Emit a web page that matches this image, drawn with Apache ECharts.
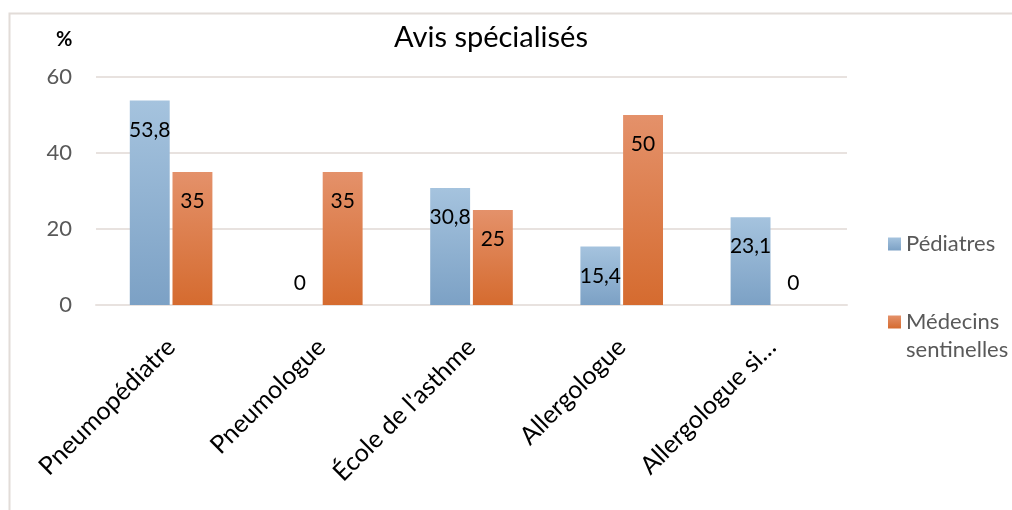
<!DOCTYPE html>
<html>
<head>
<meta charset="utf-8">
<script src="https://cdn.jsdelivr.net/npm/echarts@6/dist/echarts.min.js"></script>
<style>
html,body{margin:0;padding:0;background:#fff;}
#c{width:1012px;height:510px;}
</style>
</head>
<body>
<div id="c"></div>
<script>
const categories = ["Pneumopédiatre", "Pneumologue", "École de l'asthme", "Allergologue", "Allergologue si…"];
const pediatres = [53.8, 0, 30.8, 15.4, 23.1];
const medecins = [35, 35, 25, 50, 0];
const seriesNames = ["Pédiatres", "Médecins sentinelles"];
const yTicks = [0, 20, 40, 60];

const FONT = 'Lato, "Open Sans", sans-serif';
function grad(top, bottom) {
  return new echarts.graphic.LinearGradient(0, 0, 0, 1, [
    {offset: 0, color: top}, {offset: 1, color: bottom}
  ]);
}
const blue = grad('#A5C3DE', '#7CA1C5');
const orange = grad('#E4916A', '#D56B2F');

function fmt(v) { return String(v).replace('.', ','); }
function toData(arr) {
  return arr.map(v => v === 0
    ? {value: v, label: {position: 'top', distance: 11}}
    : {value: v});
}
const labelStyle = {
  show: true, position: 'insideTop', distance: 19,
  color: '#000', fontSize: 21, fontFamily: FONT,
  formatter: p => fmt(p.value)
};

const chart = echarts.init(document.getElementById('c'), null, {renderer: 'canvas'});
chart.setOption({
  animation: false,
  backgroundColor: '#fff',
  graphic: [{
    type: 'rect', shape: {x: 9.5, y: 13.5, width: 1100, height: 600},
    style: {fill: 'none', stroke: '#E2DCD8', lineWidth: 2}, silent: true
  }, {
    type: 'text', left: 56, top: 30,
    style: {text: '%', font: 'bold 20px ' + FONT, fill: '#000'}
  }],
  title: {
    text: 'Avis spécialisés', left: 486, top: 18, textAlign: 'center',
    textStyle: {fontFamily: FONT, fontSize: 29, fontWeight: 'normal', color: '#000'}
  },
  legend: {
    orient: 'vertical', left: 883, top: 225, itemGap: 22,
    itemWidth: 13, itemHeight: 13, icon: 'rect',
    textStyle: {fontFamily: FONT, fontSize: 22, color: '#595959', lineHeight: 28},
    formatter: name => name === seriesNames[1] ? ' \nMédecins\nsentinelles' : name,
    data: seriesNames
  },
  grid: {left: 96, right: 165, top: 77, bottom: 205, containLabel: false},
  xAxis: {
    type: 'category', data: categories,
    axisLine: {show: true, lineStyle: {color: '#E8E2DF', width: 2}},
    axisTick: {show: false},
    axisLabel: {rotate: 45, margin: 38, color: '#000', fontSize: 25, fontFamily: FONT, interval: 0}
  },
  yAxis: {
    type: 'value', min: 0, max: 60, interval: 20,
    axisLine: {show: false}, axisTick: {show: false},
    splitLine: {lineStyle: {color: '#E8E2DF', width: 2}},
    axisLabel: {color: '#595959', fontSize: 22, fontFamily: FONT, margin: 24,
      formatter: v => yTicks.includes(v) ? String(v) : ''}
  },
  series: [{
    name: seriesNames[0], type: 'bar', data: toData(pediatres),
    barGap: '7%', barCategoryGap: '45%',
    itemStyle: {color: blue}, label: labelStyle
  }, {
    name: seriesNames[1], type: 'bar', data: toData(medecins),
    itemStyle: {color: orange}, label: labelStyle
  }]
});
</script>
</body>
</html>
